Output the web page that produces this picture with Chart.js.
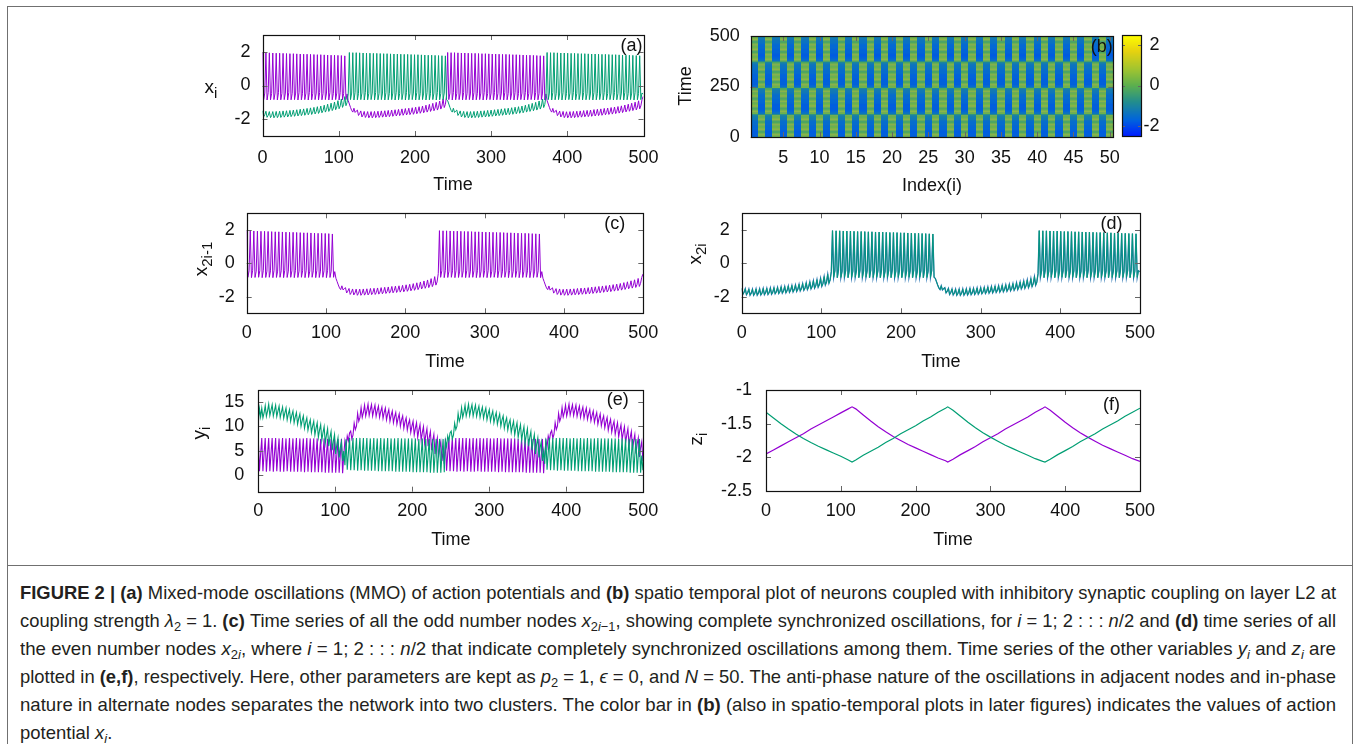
<!DOCTYPE html>
<html><head><meta charset="utf-8">
<script src="https://cdn.jsdelivr.net/npm/chart.js@4.4.1/dist/chart.umd.min.js"></script>
<style>
html,body{margin:0;padding:0;background:#fff;width:1360px;height:744px;overflow:hidden;position:relative}
canvas{position:absolute}
#frame{position:absolute;left:7px;top:6px;width:1346px;height:800px;border:1.5px solid #707070;box-sizing:border-box}
#sep{position:absolute;left:7px;top:565px;width:1346px;height:0;border-top:1.5px solid #707070}
#caption{position:absolute;left:20px;top:579px;font-family:'Liberation Sans Narrow','Liberation Sans',Arial,sans-serif;font-size:19px;line-height:28px;color:#231f20}
.ln{height:28px;white-space:nowrap}
.ln span{display:inline-block;transform-origin:0 50%}
sub{font-size:70%;vertical-align:baseline;position:relative;top:0.3em;line-height:0}
</style>
</head><body>
<div id="frame"></div><div id="sep"></div>
<div id="caption">
<div class="ln"><span><b>FIGURE 2 | (a)</b> Mixed-mode oscillations (MMO) of action potentials and <b>(b)</b> spatio temporal plot of neurons coupled with inhibitory synaptic coupling on layer L2 at</span></div>
<div class="ln"><span>coupling strength <i>λ</i><sub>2</sub> = 1. <b>(c)</b> Time series of all the odd number nodes <i>x</i><sub>2<i>i</i>−1</sub>, showing complete synchronized oscillations, for <i>i</i> = 1; 2 : : : <i>n</i>/2 and <b>(d)</b> time series of all</span></div>
<div class="ln"><span>the even number nodes <i>x</i><sub>2<i>i</i></sub>, where <i>i</i> = 1; 2 : : : <i>n</i>/2 that indicate completely synchronized oscillations among them. Time series of the other variables <i>y<sub>i</sub></i> and <i>z<sub>i</sub></i> are</span></div>
<div class="ln"><span>plotted in <b>(e,f)</b>, respectively. Here, other parameters are kept as <i>p</i><sub>2</sub> = 1, <i>ϵ</i> = 0, and <i>N</i> = 50. The anti-phase nature of the oscillations in adjacent nodes and in-phase</span></div>
<div class="ln"><span>nature in alternate nodes separates the network into two clusters. The color bar in <b>(b)</b> (also in spatio-temporal plots in later figures) indicates the values of action</span></div>
<div class="ln"><span>potential <i>x<sub>i</sub></i>.</span></div>
</div>
<script>
// ---------------- data ----------------
const DT = 1.5; // time between consecutive digitised samples of x and y

const timeTicks = [0, 100, 200, 300, 400, 500];
const xTicks = [-2, 0, 2];
const yTicks = [0, 5, 10, 15];
const zTicks = [-2.5, -2, -1.5, -1];
const indexTicks = [5, 10, 15, 20, 25, 30, 35, 40, 45, 50];
const heatTimeTicks = [0, 250, 500];
const colorTicks = [-2, 0, 2];
const nodeCount = 50;

// x of odd nodes (purple)
const xOdd = [
 1.95,-0.84,-0.45, 1.95,-0.86,-0.42, 1.94,-0.85,-0.47, 1.93,-0.84,-0.45, 1.92,-0.86,-0.42,
 1.92,-0.85,-0.47, 1.91,-0.84,-0.45, 1.90,-0.86,-0.42, 1.89,-0.85,-0.47, 1.89,-0.84,-0.45,
 1.88,-0.86,-0.42, 1.87,-0.85,-0.47, 1.86,-0.84,-0.45, 1.86,-0.86,-0.42, 1.85,-0.85,-0.47,
 1.84,-0.84,-0.45, 1.83,-0.86,-0.42, 1.83,-0.85,-0.47, 1.82,-0.84,-0.45, 1.81,-0.86,-0.42,
 1.80,-0.85,-0.47, 1.80,-0.84,-0.45, 1.79,-0.86,-0.42, 1.78,-0.85,-0.47, 1.76,-0.84,-0.50,
 -0.90,-1.10,-1.30,-1.48,-1.58,
 -1.35,-1.60,-1.52, -1.46,-1.78,-1.67, -1.51,-1.87,-1.75, -1.54,-1.90,-1.78, -1.55,-1.92,-1.80,
 -1.55,-1.92,-1.80, -1.54,-1.91,-1.79, -1.53,-1.90,-1.78, -1.51,-1.88,-1.76, -1.50,-1.87,-1.75,
 -1.48,-1.85,-1.73, -1.46,-1.83,-1.71, -1.44,-1.81,-1.69, -1.42,-1.79,-1.67, -1.39,-1.77,-1.64,
 -1.37,-1.75,-1.62, -1.35,-1.73,-1.60, -1.32,-1.71,-1.57, -1.29,-1.68,-1.54, -1.26,-1.65,-1.51,
 -1.22,-1.62,-1.48, -1.17,-1.58,-1.43, -1.12,-1.54,-1.39, -1.06,-1.50,-1.34, -1.00,-1.46,-1.29,
 -0.92,-1.40,-1.22, -0.80,-1.31,-1.12,
 -0.62,
 1.96,-0.84,-0.45, 1.95,-0.86,-0.42, 1.95,-0.85,-0.47, 1.94,-0.84,-0.45, 1.93,-0.86,-0.42,
 1.93,-0.85,-0.47, 1.92,-0.84,-0.45, 1.91,-0.86,-0.42, 1.91,-0.85,-0.47, 1.90,-0.84,-0.45,
 1.89,-0.86,-0.42, 1.89,-0.85,-0.47, 1.88,-0.84,-0.45, 1.87,-0.86,-0.42, 1.87,-0.85,-0.47,
 1.86,-0.84,-0.45, 1.85,-0.86,-0.42, 1.85,-0.85,-0.47, 1.84,-0.84,-0.45, 1.83,-0.86,-0.42,
 1.83,-0.85,-0.47, 1.82,-0.84,-0.45, 1.81,-0.86,-0.42, 1.80,-0.85,-0.47, 1.80,-0.84,-0.45,
 1.79,-0.86,-0.42, 1.78,-0.85,-0.47, 1.77,-0.84,-0.45, 1.76,-0.86,-0.50,
 -0.90,-1.10,-1.30,-1.48,-1.58,
 -1.36,-1.61,-1.53, -1.47,-1.79,-1.68, -1.52,-1.87,-1.76, -1.54,-1.91,-1.79, -1.56,-1.92,-1.80,
 -1.55,-1.92,-1.80, -1.54,-1.91,-1.79, -1.53,-1.89,-1.77, -1.51,-1.88,-1.76, -1.49,-1.86,-1.74,
 -1.48,-1.85,-1.73, -1.46,-1.83,-1.71, -1.43,-1.81,-1.68, -1.41,-1.79,-1.66, -1.39,-1.77,-1.64,
 -1.36,-1.74,-1.61, -1.34,-1.72,-1.59, -1.31,-1.70,-1.56, -1.28,-1.67,-1.53, -1.25,-1.64,-1.50,
 -1.21,-1.61,-1.47, -1.16,-1.57,-1.42, -1.11,-1.53,-1.38, -1.05,-1.49,-1.33, -0.99,-1.45,-1.28,
 -0.91,-1.39,-1.21,
 -0.85,-0.65
];

// x of even nodes (green)
const xEven = [
 -1.50,-1.86,-1.74, -1.53,-1.89,-1.77, -1.55,-1.91,-1.79, -1.55,-1.92,-1.80, -1.54,-1.91,-1.79,
 -1.53,-1.90,-1.78, -1.51,-1.88,-1.76, -1.50,-1.87,-1.75, -1.48,-1.85,-1.73, -1.46,-1.83,-1.71,
 -1.44,-1.81,-1.69, -1.41,-1.79,-1.66, -1.39,-1.77,-1.64, -1.36,-1.74,-1.61, -1.33,-1.72,-1.58,
 -1.30,-1.69,-1.55, -1.26,-1.66,-1.52, -1.22,-1.62,-1.48, -1.17,-1.58,-1.43, -1.11,-1.54,-1.39,
 -1.05,-1.49,-1.34, -0.98,-1.44,-1.28, -0.90,-1.38,-1.21, -0.80,-1.30,-1.12, -0.66,-1.20,-1.00,
 -0.50,
 1.96,-0.84,-0.45, 1.95,-0.86,-0.42, 1.95,-0.85,-0.47, 1.94,-0.84,-0.45, 1.93,-0.86,-0.42,
 1.93,-0.85,-0.47, 1.92,-0.84,-0.45, 1.91,-0.86,-0.42, 1.91,-0.85,-0.47, 1.90,-0.84,-0.45,
 1.89,-0.86,-0.42, 1.89,-0.85,-0.47, 1.88,-0.84,-0.45, 1.87,-0.86,-0.42, 1.87,-0.85,-0.47,
 1.86,-0.84,-0.45, 1.85,-0.86,-0.42, 1.85,-0.85,-0.47, 1.84,-0.84,-0.45, 1.83,-0.86,-0.42,
 1.83,-0.85,-0.47, 1.82,-0.84,-0.45, 1.81,-0.86,-0.42, 1.80,-0.85,-0.47, 1.80,-0.84,-0.45,
 1.79,-0.86,-0.42, 1.78,-0.85,-0.47, 1.77,-0.84,-0.45,
 1.76,-0.84,
 -0.90,-1.10,-1.30,-1.48,-1.58,
 -1.35,-1.60,-1.52, -1.46,-1.78,-1.67, -1.51,-1.87,-1.75, -1.54,-1.90,-1.78, -1.55,-1.92,-1.80,
 -1.55,-1.92,-1.80, -1.54,-1.91,-1.79, -1.53,-1.90,-1.78, -1.51,-1.88,-1.76, -1.50,-1.87,-1.75,
 -1.48,-1.85,-1.73, -1.46,-1.83,-1.71, -1.44,-1.81,-1.69, -1.42,-1.79,-1.67, -1.39,-1.77,-1.64,
 -1.37,-1.75,-1.62, -1.35,-1.73,-1.60, -1.32,-1.71,-1.57, -1.29,-1.68,-1.54, -1.26,-1.65,-1.51,
 -1.22,-1.62,-1.48, -1.17,-1.58,-1.43, -1.12,-1.54,-1.39, -1.06,-1.50,-1.34, -1.00,-1.46,-1.29,
 -0.92,-1.40,-1.22, -0.80,-1.31,-1.12,
 -0.62,
 1.96,-0.84,-0.45, 1.95,-0.86,-0.42, 1.95,-0.85,-0.47, 1.94,-0.84,-0.45, 1.93,-0.86,-0.42,
 1.93,-0.85,-0.47, 1.92,-0.84,-0.45, 1.91,-0.86,-0.42, 1.91,-0.85,-0.47, 1.90,-0.84,-0.45,
 1.89,-0.86,-0.42, 1.89,-0.85,-0.47, 1.88,-0.84,-0.45, 1.87,-0.86,-0.42, 1.87,-0.85,-0.47,
 1.86,-0.84,-0.45, 1.85,-0.86,-0.42, 1.85,-0.85,-0.47, 1.84,-0.84,-0.45, 1.83,-0.86,-0.42,
 1.83,-0.85,-0.47, 1.82,-0.84,-0.45, 1.81,-0.86,-0.42, 1.80,-0.85,-0.47, 1.80,-0.84,-0.45,
 1.79,-0.86,-0.42, 1.78,-0.85,-0.47, 1.77,-0.84,-0.45,
 -0.50
];

// y of odd nodes (purple)
const yOdd = [
 7.2,0.8,4.3, 7.6,0.8,4.4, 7.6,0.7,4.3, 7.6,0.8,4.4, 7.6,0.7,4.3,
 7.6,0.8,4.3, 7.5,0.7,4.4, 7.6,0.7,4.3, 7.5,0.8,4.3, 7.6,0.7,4.4,
 7.5,0.7,4.3, 7.6,0.7,4.3, 7.5,0.7,4.2, 7.5,0.6,4.3, 7.6,0.7,4.2,
 7.5,0.6,4.2, 7.5,0.6,4.3, 7.5,0.6,4.2, 7.4,0.6,4.2, 7.5,0.5,4.2,
 7.4,0.5,4.1, 7.4,0.5,4.2, 7.4,0.5,4.1, 7.4,0.5,4.1, 7.4,0.4,4.1,
 7.0,5.8,8.0,7.0,8.6,
 9.0,7.4,8.2, 10.6,9.3,10.0, 12.6,11.0,11.8, 13.8,11.8,12.8, 14.3,12.1,13.2,
 14.5,12.2,13.4, 14.4,12.1,13.3, 14.3,12.0,13.2, 14.1,11.8,13.0, 13.9,11.6,12.8,
 13.7,11.3,12.5, 13.4,11.0,12.2, 13.1,10.7,11.9, 12.8,10.4,11.6, 12.5,10.0,11.3,
 12.1,9.6,10.9, 11.7,9.2,10.5, 11.3,8.7,10.0, 11.0,8.2,9.6, 10.7,7.7,9.2,
 10.3,7.1,8.7, 9.9,6.5,8.2, 9.5,5.9,7.7, 8.9,5.1,7.0, 8.3,4.3,6.3,
 7.6,3.6,5.6, 6.8,2.9,4.9,
 2.3,
 7.5,0.9,4.4, 7.6,0.8,4.4, 7.6,0.8,4.4, 7.6,0.7,4.3, 7.6,0.8,4.4,
 7.6,0.7,4.3, 7.6,0.8,4.4, 7.5,0.7,4.3, 7.6,0.7,4.3, 7.5,0.8,4.3,
 7.6,0.7,4.3, 7.5,0.7,4.3, 7.6,0.7,4.3, 7.5,0.7,4.2, 7.5,0.7,4.2,
 7.6,0.6,4.2, 7.5,0.7,4.2, 7.5,0.6,4.2, 7.5,0.6,4.2, 7.5,0.6,4.2,
 7.5,0.6,4.1, 7.4,0.6,4.1, 7.5,0.6,4.1, 7.5,0.5,4.1, 7.4,0.5,4.1,
 7.4,0.5,4.1, 7.4,0.5,4.0, 7.4,0.5,4.0, 7.4,0.4,4.0,
 7.0,5.8,8.0,7.0,8.6,
 9.1,7.5,8.3, 10.7,9.3,10.0, 12.6,11.0,11.8, 13.8,11.9,12.8, 14.3,12.1,13.2,
 14.5,12.3,13.4, 14.4,12.2,13.3, 14.3,12.0,13.2, 14.1,11.8,13.0, 13.9,11.6,12.8,
 13.7,11.4,12.5, 13.4,11.1,12.2, 13.1,10.8,11.9, 12.8,10.4,11.6, 12.5,10.1,11.3,
 12.1,9.7,10.9, 11.8,9.2,10.5, 11.4,8.8,10.1, 11.0,8.3,9.6, 10.7,7.8,9.2,
 10.3,7.2,8.7, 9.9,6.6,8.2, 9.5,6.0,7.7, 8.9,5.2,7.0, 8.3,4.4,6.3,
 7.6,3.7,5.6,
 6.8,2.9
];

// y of even nodes (green)
const yEven = [
 10.6,13.6,11.9, 13.7,11.7,12.7, 14.2,12.0,13.1, 14.5,12.2,13.3, 14.4,12.1,13.2,
 14.3,12.0,13.1, 14.1,11.8,12.9, 13.9,11.6,12.7, 13.7,11.3,12.5, 13.4,11.0,12.2,
 13.1,10.7,11.9, 12.8,10.4,11.6, 12.5,10.0,11.2, 12.1,9.6,10.8, 11.7,9.2,10.4,
 11.3,8.7,10.0, 11.0,8.2,9.6, 10.7,7.7,9.2, 10.3,7.1,8.7, 9.9,6.5,8.2,
 9.5,5.9,7.7, 8.9,5.1,7.0, 8.3,4.3,6.3, 7.6,3.6,5.6, 6.8,2.9,4.9,
 2.0,
 7.3,1.1,4.5, 7.6,1.0,4.5, 7.6,1.0,4.4, 7.6,0.9,4.5, 7.6,1.0,4.4,
 7.6,0.9,4.4, 7.6,0.9,4.4, 7.5,0.9,4.3, 7.6,0.9,4.4, 7.5,0.8,4.3,
 7.6,0.8,4.3, 7.5,0.8,4.3, 7.6,0.8,4.3, 7.5,0.8,4.2, 7.5,0.7,4.2,
 7.6,0.7,4.2, 7.5,0.7,4.2, 7.5,0.7,4.2, 7.5,0.7,4.1, 7.5,0.6,4.1,
 7.5,0.6,4.1, 7.4,0.6,4.1, 7.5,0.6,4.1, 7.4,0.6,4.0, 7.4,0.5,4.0,
 7.4,0.5,4.0, 7.4,0.5,4.0, 7.4,0.5,4.0,
 7.4,0.6,
 7.0,5.8,8.0,7.0,8.6,
 9.0,7.4,8.2, 10.6,9.3,10.0, 12.6,11.0,11.8, 13.8,11.8,12.8, 14.3,12.1,13.2,
 14.5,12.2,13.4, 14.4,12.1,13.3, 14.3,12.0,13.2, 14.1,11.8,13.0, 13.9,11.6,12.8,
 13.7,11.3,12.5, 13.4,11.0,12.2, 13.1,10.7,11.9, 12.8,10.4,11.6, 12.5,10.0,11.3,
 12.1,9.6,10.9, 11.7,9.2,10.5, 11.3,8.7,10.0, 11.0,8.2,9.6, 10.7,7.7,9.2,
 10.3,7.1,8.7, 9.9,6.5,8.2, 9.5,5.9,7.7, 8.9,5.1,7.0, 8.3,4.3,6.3,
 7.6,3.6,5.6, 6.8,2.9,4.9,
 2.3,
 7.5,1.1,4.5, 7.6,1.0,4.5, 7.6,1.0,4.4, 7.6,0.9,4.5, 7.6,1.0,4.4,
 7.6,0.9,4.4, 7.6,0.9,4.4, 7.5,0.9,4.3, 7.6,0.9,4.4, 7.5,0.8,4.3,
 7.6,0.8,4.3, 7.5,0.8,4.3, 7.6,0.8,4.3, 7.5,0.8,4.2, 7.5,0.7,4.2,
 7.6,0.7,4.2, 7.5,0.7,4.2, 7.5,0.7,4.2, 7.5,0.7,4.1, 7.5,0.6,4.1,
 7.5,0.6,4.1, 7.4,0.6,4.1, 7.5,0.6,4.1, 7.4,0.6,4.0, 7.4,0.5,4.0,
 7.4,0.5,4.0, 7.4,0.5,4.0, 7.4,0.5,4.0,
 1.0
];

// z (slow variable), sampled at these times
const zTimes = [0,10,20,30,40,50,60,70,80,90,100,110,115,
 120,130,140,150,160,170,180,190,200,210,220,230,240,243,
 250,260,270,280,290,300,310,320,330,340,350,360,370,373,
 380,390,400,410,420,430,440,450,460,470,480,490,500];
const zOdd = [-1.95,-1.89,-1.83,-1.77,-1.71,-1.65,-1.58,-1.52,-1.46,-1.40,-1.34,-1.28,-1.25,
 -1.28,-1.37,-1.46,-1.545,-1.62,-1.69,-1.75,-1.81,-1.86,-1.91,-1.96,-2.01,-2.05,-2.07,
 -2.03,-1.96,-1.90,-1.84,-1.77,-1.71,-1.65,-1.58,-1.52,-1.46,-1.40,-1.33,-1.27,-1.25,
 -1.30,-1.39,-1.48,-1.56,-1.635,-1.70,-1.76,-1.82,-1.87,-1.92,-1.97,-2.02,-2.06];
const zEven = [-1.33,-1.415,-1.50,-1.58,-1.655,-1.72,-1.78,-1.835,-1.885,-1.935,-1.985,-2.04,-2.07,
 -2.04,-1.97,-1.91,-1.85,-1.78,-1.72,-1.65,-1.59,-1.53,-1.46,-1.40,-1.33,-1.27,-1.25,
 -1.30,-1.39,-1.48,-1.56,-1.635,-1.70,-1.76,-1.82,-1.87,-1.92,-1.97,-2.02,-2.06,-2.07,
 -2.03,-1.96,-1.90,-1.84,-1.77,-1.71,-1.65,-1.58,-1.52,-1.46,-1.39,-1.33,-1.27];

// ---------------- styling ----------------
const FONT = "'Liberation Sans', Arial, Helvetica, sans-serif";
const PURPLE = '#9400d3', GREEN = '#009e73', BLUE = '#1f6fb0';
const paletteStops = [[-2.5,[0,30,255]],[-1.7,[0,100,220]],[-0.8,[35,142,140]],[0,[92,175,78]],[0.8,[160,196,48]],[1.7,[230,210,15]],[2.5,[255,255,0]]];
function paletteRGB(v){
  const s = paletteStops;
  if (v <= s[0][0]) return s[0][1].slice();
  if (v >= s[s.length-1][0]) return s[s.length-1][1].slice();
  for (let i=0;i<s.length-1;i++){
    if (v>=s[i][0] && v<=s[i+1][0]){
      const f=(v-s[i][0])/(s[i+1][0]-s[i][0]);
      return [0,1,2].map(j=>s[i][1][j]+(s[i+1][1][j]-s[i][1][j])*f);
    }
  }
}
const rgbStr = c => `rgb(${Math.round(c[0])},${Math.round(c[1])},${Math.round(c[2])})`;

const pts = arr => arr.map((v,k)=>({x:k*DT, y:v}));
const ptsT = (ts,arr) => arr.map((v,k)=>({x:ts[k], y:v}));

function drawSubTitle(ctx, t){
  ctx.save();
  ctx.fillStyle = '#111';
  ctx.textBaseline = 'alphabetic';
  ctx.translate(t.x, t.y);
  if (t.rot) ctx.rotate(-Math.PI/2);
  const mf = (t.size||19)+'px '+FONT, sf = (t.subSize||15)+'px '+FONT;
  ctx.font = mf; const wm = ctx.measureText(t.main).width;
  ctx.font = sf; const ws = t.sub ? ctx.measureText(t.sub).width : 0;
  const x0 = -(wm+ws)/2;
  ctx.font = mf; ctx.textAlign='left'; ctx.fillText(t.main, x0, 0);
  if (t.sub){ ctx.font = sf; ctx.fillText(t.sub, x0+wm, t.drop||5); }
  ctx.restore();
}

const framePlugin = {
  id: 'gframe',
  afterDraw(chart, _a, o){
    const {ctx, chartArea:a} = chart;
    const xs = chart.scales.x, ys = chart.scales.y;
    ctx.save();
    const tl = 5;
    ctx.lineWidth = 1; ctx.strokeStyle = '#666';
    ctx.beginPath();
    if (xs && xs.options.display !== false) for (const t of xs.ticks){
      const p = Math.round(xs.getPixelForValue(t.value))+0.5;
      ctx.moveTo(p, a.bottom); ctx.lineTo(p, a.bottom-tl);
      ctx.moveTo(p, a.top); ctx.lineTo(p, a.top+tl);
    }
    for (const t of ys.ticks){
      const p = Math.round(ys.getPixelForValue(t.value))+0.5;
      const len = o.cbar ? 3 : tl;
      ctx.moveTo(a.left, p); ctx.lineTo(a.left+len, p);
      ctx.moveTo(a.right, p); ctx.lineTo(a.right-len, p);
    }
    ctx.stroke();
    ctx.strokeStyle = '#111'; ctx.lineWidth = 1.2;
    const L=Math.round(a.left)+0.5, T=Math.round(a.top)+0.5;
    ctx.strokeRect(L, T, Math.round(a.right)-Math.round(a.left), Math.round(a.bottom)-Math.round(a.top));
    if (o.label){
      ctx.font = '18px '+FONT; ctx.fillStyle = '#111';
      ctx.textAlign = 'right'; ctx.textBaseline = 'middle';
      ctx.fillText(o.label, a.right-o.labelDx, a.top+o.labelDy);
    }
    if (o.ytitle) drawSubTitle(ctx, o.ytitle);
    ctx.restore();
  }
};

// heat map: each cell coloured by the node's x value along its trace
function valueAt(src, t){
  const f = t/DT, k = Math.floor(f);
  if (k < 0) return src[0];
  if (k >= src.length-1) return src[src.length-1];
  return src[k] + (src[k+1]-src[k])*(f-k);
}
const heatPlugin = {
  id: 'heat',
  beforeDatasetsDraw(chart){
    const {ctx, chartArea:a, scales:{x, y}} = chart;
    ctx.save();
    const top = Math.round(a.top), bot = Math.round(a.bottom);
    const SUB = 2;
    for (let p=1; p<=nodeCount; p++){
      const src = (p % 2 === 1) ? xEven : xOdd;
      const x0 = Math.round(x.getPixelForValue(p-0.5)), x1 = Math.round(x.getPixelForValue(p+0.5));
      for (let row=top; row<bot; row++){
        const acc=[0,0,0];
        for (let s=0; s<SUB; s++){
          const c = paletteRGB(valueAt(src, y.getValueForPixel(row+(s+0.5)/SUB)));
          acc[0]+=c[0]; acc[1]+=c[1]; acc[2]+=c[2];
        }
        ctx.fillStyle = rgbStr(acc.map(v=>v/SUB));
        ctx.fillRect(x0, row, x1-x0, 1);
      }
    }
    ctx.restore();
  }
};

const cbarPlugin = {
  id: 'cbar',
  beforeDatasetsDraw(chart){
    const {ctx, chartArea:a, scales:{y}} = chart;
    for (let row=Math.round(a.top); row<Math.round(a.bottom); row++){
      ctx.fillStyle = rgbStr(paletteRGB(y.getValueForPixel(row+0.5)));
      ctx.fillRect(Math.round(a.left), row, Math.round(a.right)-Math.round(a.left), 1);
    }
  }
};

function panel(P, datasets, xs, ys, plugins){
  const cv = document.createElement('canvas');
  const cx = Math.floor(P.L)-110, cy = Math.floor(P.T)-28;
  const cw = Math.ceil(P.R)+30-cx, ch = Math.ceil(P.B)+72-cy;
  cv.width = cw; cv.height = ch;
  cv.style.left = cx+'px'; cv.style.top = cy+'px';
  cv.style.width = cw+'px'; cv.style.height = ch+'px';
  document.body.appendChild(cv);
  const lh = 18*1.2;
  const yt = Object.assign({}, P.ytitle, {x: P.ytitle.x-cx, y: P.ytitle.y-cy});
  return new Chart(cv, {
    type: 'line',
    data: {datasets},
    plugins: (plugins||[]).concat([framePlugin]),
    options: {
      responsive:false, animation:false, events:[],
      layout:{padding:{left:0, top:P.T-cy, right:cx+cw-P.R, bottom:0}},
      plugins:{legend:{display:false}, tooltip:{enabled:false},
        gframe:{label:P.label, labelDx:P.labelDx, labelDy:P.labelDy, ytitle:yt}},
      scales:{
        x:{type:'linear', min:xs.min, max:xs.max,
          grid:{display:false, drawTicks:false}, border:{display:false},
          afterBuildTicks:s=>{ s.ticks = xs.ticks.map(v=>({value:v})); },
          afterFit:s=>{ s.height = cy+ch-P.B; },
          ticks:{autoSkip:false, maxRotation:0, minRotation:0, padding:P.xlabC-P.B-lh/2,
            font:{family:FONT, size:18}, color:'#111', callback:v=>String(v)},
          title:{display:true, text:xs.title, font:{family:FONT, size:18}, color:'#111',
            padding:{top:0, bottom:cy+ch-P.titleC-lh/2}}},
        y:{type:'linear', min:ys.min, max:ys.max,
          grid:{display:false, drawTicks:false}, border:{display:false},
          afterBuildTicks:s=>{ s.ticks = ys.ticks.map(v=>({value:v})); },
          afterFit:s=>{ s.width = P.L-cx; },
          ticks:{autoSkip:false, padding:P.ypad||12, font:{family:FONT, size:18}, color:'#111', callback:v=>String(v)}}
      },
      elements:{point:{radius:0}, line:{tension:0, borderWidth:1.1}}
    }
  });
}

const line = (data, color, w) => ({data, borderColor:color, borderWidth:w||1.1, pointRadius:0, fill:false, tension:0});

// (a)
panel({L:262.5,R:643.5,T:35,B:136,xlabC:158,titleC:185,label:'(a)',labelDx:1,labelDy:11.5,
  ytitle:{main:'x',sub:'i',x:211,y:93,rot:false}},
  [line(pts(xEven),GREEN,1.0), line(pts(xOdd),PURPLE,1.0)],
  {min:0,max:500,ticks:timeTicks,title:'Time'}, {min:-3,max:3,ticks:xTicks});

// (b) heat map
panel({L:750.7,R:1113.3,T:36,B:137,xlabC:158,titleC:186,label:'(b)',labelDx:0.5,labelDy:11,ypad:11,
  ytitle:{main:'Time',sub:'',x:691,y:86,rot:true,size:18}},
  [{data:[], borderWidth:0}],
  {min:0.5,max:50.5,ticks:indexTicks,title:'Index(i)'}, {min:0,max:500,ticks:heatTimeTicks}, [heatPlugin]);

// colour bar
(function(){
  const cv = document.createElement('canvas');
  const cx=1100, cy=10, cw=80, ch=150;
  cv.width=cw; cv.height=ch; cv.style.left=cx+'px'; cv.style.top=cy+'px';
  cv.style.width=cw+'px'; cv.style.height=ch+'px';
  document.body.appendChild(cv);
  new Chart(cv, {
    type:'line', data:{datasets:[{data:[], borderWidth:0}]},
    plugins:[cbarPlugin, framePlugin],
    options:{responsive:false, animation:false, events:[],
      layout:{padding:{left:1122-cx, top:35-cy, right:cx+cw-1159.5, bottom:cy+ch-136}},
      plugins:{legend:{display:false}, tooltip:{enabled:false}, gframe:{cbar:true}},
      scales:{
        x:{type:'linear', display:false, min:0, max:1},
        y:{type:'linear', position:'right', min:-2.5, max:2.5,
          grid:{display:false, drawTicks:false}, border:{display:false},
          afterBuildTicks:s=>{ s.ticks = colorTicks.map(v=>({value:v})); },
          afterFit:s=>{ s.width = 1159.5-1141; },
          ticks:{padding:3, crossAlign:'far', font:{family:FONT,size:18}, color:'#111', callback:v=>String(v)}}
      }}
  });
})();

// (c)
panel({L:246.7,R:643.3,T:213.3,B:313.3,xlabC:333,titleC:362,label:'(c)',labelDx:18,labelDy:11,
  ytitle:{main:'x',sub:'2i-1',x:207,y:259,rot:true}},
  [line(pts(xOdd),PURPLE,1.0)],
  {min:0,max:500,ticks:timeTicks,title:'Time'}, {min:-3,max:3,ticks:xTicks});

// (d)
panel({L:741.7,R:1140,T:213.3,B:313.3,xlabC:333,titleC:362,label:'(d)',labelDx:17.5,labelDy:11,
  ytitle:{main:'x',sub:'2i',x:701,y:254,rot:true}},
  [line(pts(xEven),GREEN,0.8), line(pts(xEven),BLUE,1.3)],
  {min:0,max:500,ticks:timeTicks,title:'Time'}, {min:-3,max:3,ticks:xTicks});

// (e)
panel({L:258.3,R:643.3,T:390,B:491.7,xlabC:511,titleC:540,label:'(e)',labelDx:14.5,labelDy:10,ypad:14,
  ytitle:{main:'y',sub:'i',x:205,y:433,rot:true}},
  [line(pts(yEven),GREEN), line(pts(yOdd),PURPLE)],
  {min:0,max:500,ticks:timeTicks,title:'Time'}, {min:-3.4,max:17.4,ticks:yTicks});

// (f)
panel({L:766,R:1140,T:390,B:491,xlabC:511,titleC:540,label:'(f)',labelDx:20,labelDy:15,ypad:14,
  ytitle:{main:'z',sub:'i',x:702,y:439,rot:true}},
  [line(ptsT(zTimes,zEven),GREEN,1.2), line(ptsT(zTimes,zOdd),PURPLE,1.2)],
  {min:0,max:500,ticks:timeTicks,title:'Time'}, {min:-2.5,max:-1,ticks:zTicks});

// caption line fitting
function fitCaption(){
  const spans = [...document.querySelectorAll('#caption .ln span')];
  const target = 1316; let sum=0, n=0;
  spans.forEach((s,i)=>{
    s.style.transform='none';
    if (i<5){ const w=s.getBoundingClientRect().width; const f=target/w; s.style.transform=`scaleX(${f})`; sum+=f; n++; }
  });
  spans[5].style.transform=`scaleX(${sum/n})`;
}
fitCaption();
if (document.fonts && document.fonts.ready) document.fonts.ready.then(fitCaption);
</script>
</body></html>
